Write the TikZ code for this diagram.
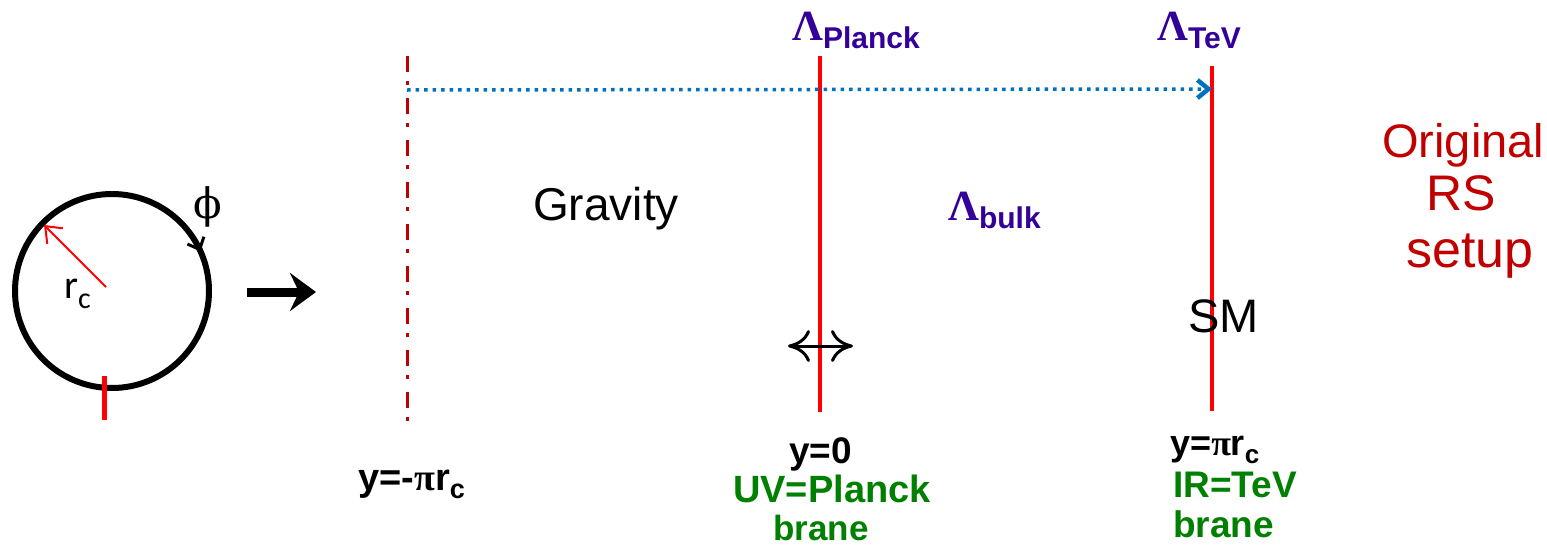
\documentclass[tikz,border=0pt]{standalone}
\usepackage{fontspec}
\setmainfont{Liberation Sans}
\newfontfamily\serifgr{Liberation Serif}
\newfontfamily\dvserif{DejaVu Serif}
\newfontfamily\calib{Carlito}
\usetikzlibrary{arrows.meta}
\definecolor{lamblue}{RGB}{51,0,153}
\definecolor{branegreen}{RGB}{0,128,0}
\definecolor{rsred}{RGB}{192,0,0}
\definecolor{dotblue}{RGB}{0,112,192}
\newcommand{\fs}[1]{\fontsize{#1}{#1}\selectfont}
\newcommand{\lam}[1]{{\fs{43}\serifgr\bfseries Λ}\raisebox{-8pt}{\fs{30}\bfseries #1}}

\begin{document}
\begin{tikzpicture}[x=1pt,y=-1pt,
  lbl/.style={inner sep=0pt,anchor=base west},
  brane/.style={red,line width=3.5pt},
  ylbl/.style={lbl,font=\bfseries},
  glbl/.style={lbl,font=\bfseries,text=branegreen}]
\useasboundingbox (0,0) rectangle (1547,554);
\coordinate (o) at (112,291);
\coordinate (rc0) at (106,287);
\coordinate (rim) at (44,225);
\coordinate (tick1) at (104,376);
\coordinate (tick2) at (104,420);
\coordinate (go1) at (247,292);
\coordinate (go2) at (316,292);
\coordinate (hid1) at (407,56);
\coordinate (hid2) at (407,422);
\coordinate (uv1) at (820,56);
\coordinate (uv2) at (820,412);
\coordinate (ir1) at (1212,66);
\coordinate (ir2) at (1212,411);
\coordinate (warp1) at (407,90);
\coordinate (warp2) at (1212,89);
\coordinate (sw1) at (788,346);
\coordinate (sw2) at (853,346);
\draw[line width=6pt] (o) circle[radius=97];
\draw[line width=3pt,-{Straight Barb[length=10pt,width=18pt]}] ([shift={(-44:97)}]o) arc[start angle=-44,end angle=-24,radius=97];
\draw[red,line width=2pt,-{Straight Barb[length=14pt,width=22pt]}] (rc0) -- (rim);
\draw[red,line width=5pt] (tick1) -- (tick2);
\draw[line width=9pt,-{Stealth[length=26pt,width=38pt,inset=9pt]}] (go1) -- (go2);
\draw[rsred,line width=3pt,dash pattern=on 16pt off 9pt on 4pt off 13pt] (hid1) -- (hid2);
\draw[brane] (uv1) -- (uv2);
\draw[brane] (ir1) -- (ir2);
\draw[dotblue,line width=3.5pt,dash pattern=on 3.5pt off 5pt,-{Straight Barb[length=11pt,width=18pt,line width=4.5pt]}] (warp1) -- (warp2);
\draw[line width=3pt,{Computer Modern Rightarrow[length=22pt,width=32pt]}-{Computer Modern Rightarrow[length=22pt,width=32pt]}] (sw1) -- (sw2);
\node (phi) at (208,207) {\dvserif\fs{42}ϕ};
\node[lbl] (rc) at (64,298) {\calib\fs{40}r\raisebox{-10pt}{\fs{30}c}};
\node[lbl,text=lamblue] (lplanck) at (792,40) {\lam{Planck}};
\node[lbl,text=lamblue] (ltev) at (1157,40) {\lam{TeV}};
\node[lbl,text=lamblue] (lbulk) at (948,220) {\lam{bulk}};
\node[lbl] (grav) at (533,220) {\fs{46}Gravity};
\node[lbl] (sm) at (1188,332) {\fs{47}SM};
\node[lbl,text=rsred] (orig) at (1382,157) {\fs{47}Original};
\node[lbl,text=rsred] (rs) at (1426,210) {\fs{50}RS};
\node[lbl,text=rsred] (setup) at (1406,267) {\fs{52}setup};
\node[ylbl] (ym) at (358,490) {\fs{38}y=-{\serifgr π}r\raisebox{-8pt}{\fs{27}c}};
\node[ylbl] (y0) at (789,463) {\fs{37}y=0};
\node[glbl] (uv) at (733,502) {\fs{38}UV=Planck};
\node[glbl] (uvb) at (773,540) {\fs{35}brane};
\node[ylbl] (yp) at (1170,455) {\fs{36}y={\serifgr π}r\raisebox{-8pt}{\fs{26}c}};
\node[glbl] (ir) at (1173,497) {\fs{37}IR=TeV};
\node[glbl] (irb) at (1173,537) {\fs{37}brane};
\end{tikzpicture}
\end{document}
